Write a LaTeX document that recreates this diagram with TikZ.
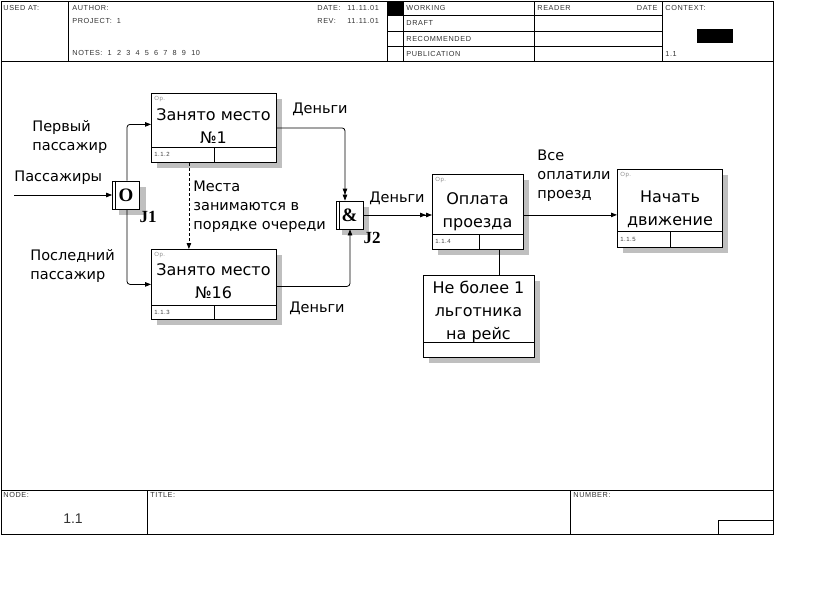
\documentclass[tikz,border=0pt]{standalone}
\usepackage{fontspec}
\setmainfont{DejaVu Sans}
\newfontfamily\hdrfont[LetterSpace=8]{Liberation Sans}
\newfontfamily\numfont{Liberation Sans}
\newfontfamily\jfont{Liberation Serif}
\usetikzlibrary{positioning,arrows.meta,shadows}

\begin{document}
\begin{tikzpicture}[x=1pt, y=-1pt, line width=0.8pt,
    >={Triangle[length=6pt,width=4.5pt]},
    frame/.style={line width=1pt},
    hdr/.style={anchor=west, inner sep=0pt, text=black!80, font=\hdrfont\fontsize{7.3}{8}\selectfont},
    tiny/.style={anchor=west, inner sep=0pt, font=\hdrfont\fontsize{6}{6}\selectfont},
    func/.style={draw, fill=white, anchor=north west, inner sep=0pt,
      drop shadow={shadow xshift=6pt, shadow yshift=-6pt, fill=black!25, opacity=1}},
    ftext/.style={align=center, inner sep=0pt, font=\fontsize{16}{23}\selectfont},
    lbl/.style={align=left, anchor=west, inner sep=0pt, font=\fontsize{14.5}{19}\selectfont},
    junc/.style={draw, fill=white, minimum width=27pt, minimum height=28pt, inner sep=0pt,
      font=\jfont\bfseries\fontsize{19}{19}\selectfont,
      drop shadow={shadow xshift=6pt, shadow yshift=-6pt, fill=black!25, opacity=1}},
    jname/.style={inner sep=0pt, font=\jfont\bfseries\fontsize{17}{17}\selectfont},
    arr/.style={->, rounded corners=3pt},
    arrr/.style={-{Triangle[length=6pt,width=4.5pt] Triangle[length=6pt,width=4.5pt]}, rounded corners=3pt}]

    % sheet and frame
    \fill[white] (0,0) rectangle (823,608);
    \draw[frame] (1,1) rectangle (773,534);
    \draw[frame] (1,61) -- (773,61) (1,490) -- (773,490);
    \draw[frame] (68,1) -- (68,61) (387,1) -- (387,61) (403,1) -- (403,61)
                 (534,1) -- (534,61) (662,1) -- (662,61);
    \draw[frame] (387,15.5) -- (662,15.5) (387,31) -- (662,31) (387,46.5) -- (662,46.5);
    \fill (387,1) rectangle (403,15.5);
    \fill (697,29) rectangle (733,43);
    \draw[frame] (147,490) -- (147,534) (570,490) -- (570,534);
    \draw[frame] (718,520) rectangle (773,534);

    \node[hdr] (used) at (3,7.5) {USED AT:};
    \node[hdr] (author) at (72,7.5) {AUTHOR:};
    \node[hdr] (project) at (72,21) {PROJECT:\ \ 1};
    \node[hdr] (notes) at (72,53) {NOTES:\ \ 1\ \ 2\ \ 3\ \ 4\ \ 5\ \ 6\ \ 7\ \ 8\ \ 9\ \ 10};
    \node[hdr] (date) at (317,7.5) {DATE:};
    \node[hdr] (dateval) at (347,7.5) {11.11.01};
    \node[hdr] (rev) at (317,21) {REV:};
    \node[hdr] (revval) at (347,21) {11.11.01};
    \node[hdr] (working) at (406,7.7) {WORKING};
    \node[hdr] (draft) at (406,23) {DRAFT};
    \node[hdr] (recom) at (406,38.5) {RECOMMENDED};
    \node[hdr] (public) at (406,53.5) {PUBLICATION};
    \node[hdr] (reader) at (537,7.7) {READER};
    \node[hdr, anchor=east] (rdate) at (658,7.7) {DATE};
    \node[hdr] (context) at (665,7.7) {CONTEXT:};
    \node[hdr] (ctxnum) at (665,53.5) {1.1};
    \node[hdr] (nodelbl) at (3,495) {NODE:};
    \node[hdr] (title) at (150,495) {TITLE:};
    \node[hdr] (number) at (573,495) {NUMBER:};
    \node[inner sep=0pt, text=black!80, font=\numfont\fontsize{14}{14}\selectfont] (nodenum) at (73,519) {1.1};

    % function boxes
    \node[func, minimum width=125pt, minimum height=69pt] (a112) at (151,93) {};
    \node[ftext] (t112) at (213.5,126.5) {Занято место\\№1};
    \draw (151,147) -- (276,147) (214,147) -- (214,162);
    \node[tiny, text=black!45] (op112) at (154,99) {Op.};
    \node[tiny, text=black!75] (n112) at (154,154.5) {1.1.2};

    \node[func, minimum width=125pt, minimum height=70pt] (a113) at (151,249) {};
    \node[ftext] (t113) at (213.5,281.5) {Занято место\\№16};
    \draw (151,305) -- (276,305) (214,305) -- (214,319);
    \node[tiny, text=black!45] (op113) at (154,255) {Op.};
    \node[tiny, text=black!75] (n113) at (154,312) {1.1.3};

    \node[func, minimum width=91pt, minimum height=75pt] (a114) at (432,174) {};
    \node[ftext] (t114) at (477.5,211.5) {Оплата\\проезда};
    \draw (432,234) -- (523,234) (479,234) -- (479,249);
    \node[tiny, text=black!45] (op114) at (435,180) {Op.};
    \node[tiny, text=black!75] (n114) at (435,241.5) {1.1.4};

    \node[func, minimum width=105pt, minimum height=78pt] (a115) at (617,169) {};
    \node[ftext] (t115) at (670,209) {Начать\\движение};
    \draw (617,231) -- (722,231) (670,231) -- (670,247);
    \node[tiny, text=black!45] (op115) at (620,175) {Op.};
    \node[tiny, text=black!75] (n115) at (620,239) {1.1.5};

    \node[func, minimum width=111pt, minimum height=82pt] (lim) at (423,275) {};
    \node[ftext] (tlim) at (478.5,312) {Не более 1\\льготника\\на рейс};
    \draw (423,342) -- (534,342);

    % junctions
    \node[junc] (j1) at (126,195) {O};
    \draw ([xshift=3.5pt]j1.north west) -- ([xshift=3.5pt]j1.south west);
    \node[jname] (j1name) at (148,217) {J1};
    \node[junc] (j2) at (349.5,215) {\&};
    \draw ([xshift=4pt]j2.north west) -- ([xshift=4pt]j2.south west);
    \node[jname] (j2name) at (372,238) {J2};

    % arrows
    \coordinate (pin) at (14,195);
    \draw[arr] (pin) -- (j1);
    \draw[arr] ([xshift=1pt]j1.north) |- ([yshift=3.5pt]a112.west);
    \draw[arr] ([xshift=1pt]j1.south) |- (a113.west);
    \draw[arrr] (a112.east) -| ([xshift=-4.5pt]j2.north);
    \draw[arr] ([yshift=-2pt]a113.east) -| ([xshift=0.5pt]j2.south);
    \draw[arrr] (j2) -- (a114.west |- j2);
    \coordinate (c114) at ([yshift=-3pt]a114.east);
    \draw[arr] (c114) -- (c114 -| a115.west);
    \draw[arr, dash pattern=on 3pt off 2pt] ([xshift=-25pt]a112.south) -- ([xshift=-25pt]a113.north);
    \draw ([xshift=21.5pt]a114.south) -- ([xshift=21.5pt]a114.south |- lim.north);

    % arrow labels
    \node[lbl] (lpas) at (14,178) {Пассажиры};
    \node[lbl] (lfirst) at (32,137) {Первый\\пассажир};
    \node[lbl] (llast) at (30,266) {Последний\\пассажир};
    \node[lbl, anchor=center] (lm1) at (320,109) {Деньги};
    \node[lbl] (lq) at (193,207) {Места\\занимаются в\\порядке очереди};
    \node[lbl, anchor=center] (lm2) at (317,308) {Деньги};
    \node[lbl, anchor=center] (lm3) at (397,198) {Деньги};
    \node[lbl] (lpaid) at (537,176) {Все\\оплатили\\проезд};
\end{tikzpicture}
\end{document}
